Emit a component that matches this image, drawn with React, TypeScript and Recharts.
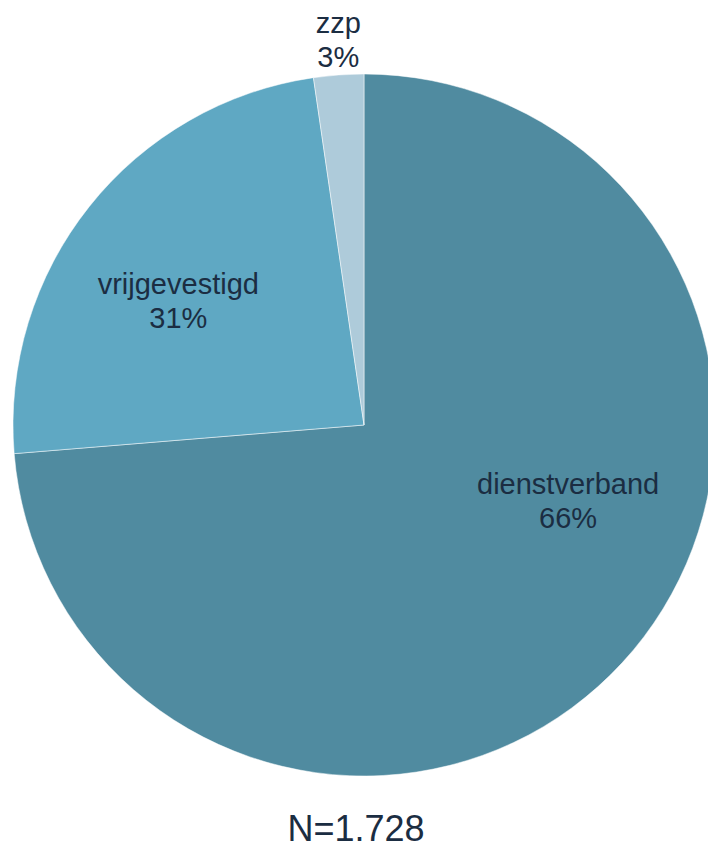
import { PieChart, Pie, Cell } from "recharts";

// slice shares as drawn in the picture, clockwise from 12 o'clock
const categories = ["dienstverband", "vrijgevestigd", "zzp"];
const shares = [73.7, 24.0, 2.3];
// the printed percentages
const shareLabels = ["66%", "31%", "3%"];
const totalLabel = "N=1.728";

const colors = ["#508ba0", "#5fa8c3", "#aecbda"];
const textColor = "#1b2d42";
const font = "'Liberation Sans', Arial, sans-serif";

// label placement: radius as part of the outer radius, and an angle nudge in degrees
const labelPlacement: Record<string, { r: number; shift: number }> = {
    dienstverband: { r: 0.612, shift: 24.5 },
    vrijgevestigd: { r: 0.65, shift: 3 },
    zzp: { r: 1.125, shift: -0.4 },
};

const data = categories.map((name, i) => ({
    name,
    value: shares[i],
    pct: shareLabels[i],
}));

const RAD = Math.PI / 180;

function renderLabel(props: any) {
    const { cx, cy, midAngle, outerRadius, index } = props;
    const item = data[index];
    const place = labelPlacement[item.name];
    const angle = (midAngle + place.shift) * RAD;
    const r = outerRadius * place.r;
    const x = cx + r * Math.cos(-angle);
    const y = cy + r * Math.sin(-angle) + 2;
    return (
        <g key={item.name}>
            <text x={x} y={y} textAnchor="middle" fill={textColor} fontSize={29} fontFamily={font}>
                {item.name}
            </text>
            <text x={x} y={y + 34} textAnchor="middle" fill={textColor} fontSize={29} fontFamily={font}>
                {item.pct}
            </text>
        </g>
    );
}

export default function App() {
    return (
        <div style={{ position: "absolute", left: 0, top: 0, width: 708, height: 848, background: "#fff" }}>
            <PieChart width={708} height={848} margin={{ top: 0, right: 0, bottom: 0, left: 0 }}>
                <Pie
                    data={data}
                    dataKey="value"
                    nameKey="name"
                    cx={364}
                    cy={425}
                    outerRadius={351}
                    startAngle={90}
                    endAngle={-270}
                    stroke="#ffffff"
                    strokeWidth={0.5}
                    labelLine={false}
                    label={renderLabel}
                    isAnimationActive={false}
                >
                    {data.map((d, i) => (
                        <Cell key={d.name} fill={colors[i]} />
                    ))}
                </Pie>
            </PieChart>
            <div
                style={{
                    position: "absolute",
                    left: 4,
                    top: 812,
                    width: 704,
                    textAlign: "center",
                    fontFamily: font,
                    fontSize: 36,
                    lineHeight: "34px",
                    color: textColor,
                }}
            >
                {totalLabel}
            </div>
        </div>
    );
}
